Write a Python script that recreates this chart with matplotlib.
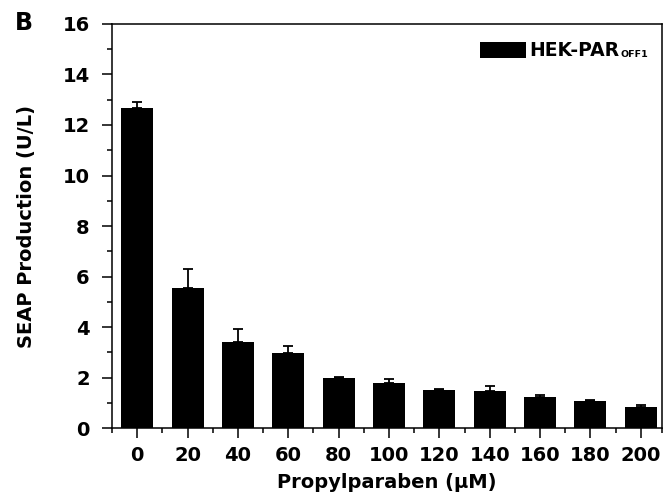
import matplotlib
matplotlib.use("Agg")
import matplotlib.pyplot as plt
import numpy as np

plt.rcParams['font.family'] = ['DejaVu Sans']
plt.rcParams['font.weight'] = 'bold'

concentrations = ['0', '20', '40', '60', '80', '100', '120', '140', '160', '180', '200']
seap = [12.68, 5.56, 3.39, 2.96, 1.97, 1.79, 1.50, 1.48, 1.21, 1.06, 0.82]
seap_err = [0.22, 0.72, 0.52, 0.29, 0.04, 0.15, 0.05, 0.20, 0.08, 0.04, 0.08]
y_ticks = [0, 2, 4, 6, 8, 10, 12, 14, 16]
series_label = 'HEK-PAR'
series_sub = 'OFF1'

fig = plt.figure(figsize=(6.71, 5.01), dpi=100)
ax = fig.add_axes([0.1669, 0.1457, 0.8197, 0.8064])

x = np.arange(len(concentrations))
ax.bar(x, seap, width=0.635, color='black', label=series_label, zorder=2)
ax.errorbar(x, seap, yerr=[np.zeros(len(seap)), seap_err], fmt='none',
            ecolor='black', elinewidth=1.3, capsize=3.6, capthick=1.3, zorder=3)

ax.set_xlim(-0.5, 10.42)
ax.set_ylim(0, 16)
ax.set_xticks(x)
ax.set_xticklabels(concentrations)
ax.set_xticks(list(np.arange(-0.5, 10, 1.0)) + [10.42], minor=True)
ax.set_yticks(y_ticks)
ax.set_yticklabels([str(v) for v in y_ticks])
ax.set_yticks(np.arange(1, 16, 2), minor=True)

for s in ax.spines.values():
    s.set_linewidth(1.1)

ax.tick_params(axis='both', which='major', direction='out', length=7, width=1.1,
               labelsize=14)
ax.tick_params(axis='both', which='minor', direction='out', length=3.6, width=1.1)
ax.tick_params(axis='y', which='major', pad=9)
ax.tick_params(axis='x', which='major', pad=6)
for lab in ax.get_xticklabels() + ax.get_yticklabels():
    lab.set_fontweight('bold')

ax.set_xlabel('Propylparaben (μM)', fontsize=14, fontweight='bold', labelpad=6)
ax.set_ylabel('SEAP Production (U/L)', fontsize=14, fontweight='bold', labelpad=19)

leg = ax.legend(loc='upper left', bbox_to_anchor=(0.669, 0.957), frameon=False,
                fontsize=13.5, handlelength=2.45, handleheight=0.9,
                handletextpad=0.17, borderpad=0, borderaxespad=0)
for t in leg.get_texts():
    t.set_fontweight('bold')

fig.canvas.draw()
ltxt = leg.get_texts()[0]
bb = ltxt.get_window_extent(renderer=fig.canvas.get_renderer())
inv = fig.transFigure.inverted()
x1, y0 = inv.transform((bb.x1 + 1, bb.y0 + 1))
fig.text(x1, y0, series_sub, fontsize=6.8, fontweight='bold', ha='left', va='bottom')

fig.text(0.022, 0.955, 'B', fontsize=17, fontweight='bold', va='center', ha='left')

fig.savefig('out.png', dpi=100)
